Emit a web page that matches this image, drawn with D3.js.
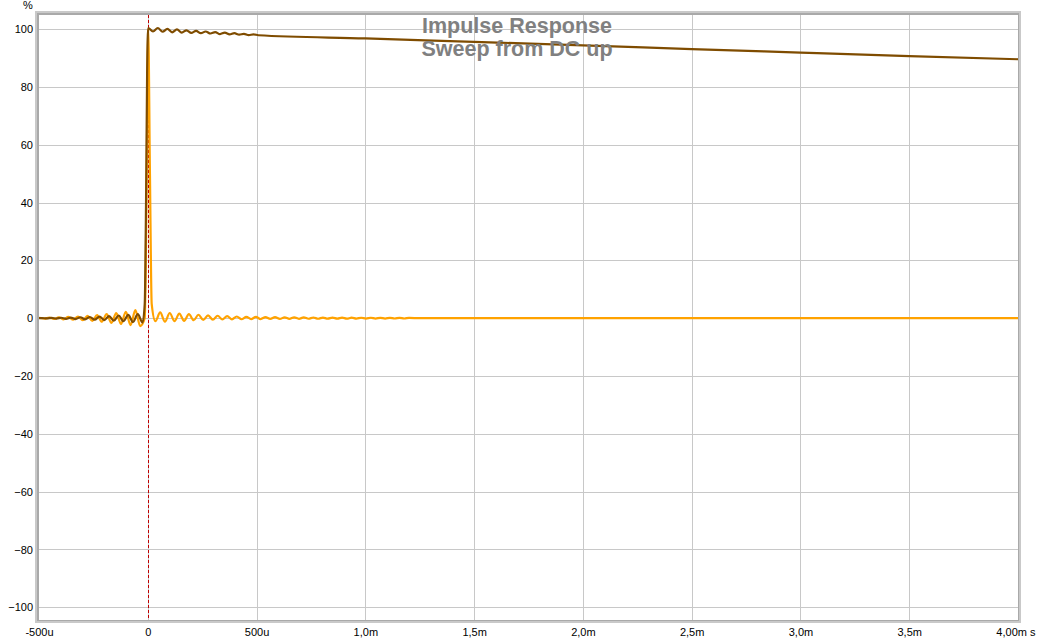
<!DOCTYPE html>
<html><head><meta charset="utf-8">
<script src="https://cdn.jsdelivr.net/npm/d3@7/dist/d3.min.js"></script>
<style>body{margin:0;background:#fff}svg{display:block}</style>
</head><body>
<svg id="c" width="1037" height="643"></svg>
<script>
// time in microseconds, value in %
const impulseT = [-500,-497,-475,-453,-431,-409,-387,-365,-343,-321,-299,-277,-255,-233,-211,-189,-167,-145,-123,-101,-79,-57,-35,-14,-6,2,10,18,
  35,57,79,101,123,145,167,189,211,233,255,277,299,321,343,365,387,409,431,453,475,497,519,541,563,585,607,629,651,673,695,717,739,761,783,805,827,849,871,893,915,937,959,981,1003,1025,1047,1069,1091,1113,1135,1157,1179,1201,1250,4000];
const impulseV = [0,0.1,-0.15,0.2,-0.25,0.3,-0.4,0.45,-0.5,0.6,-0.7,0.8,-0.9,1.05,-1.2,1.4,-1.6,1.8,-2.0,2.2,-2.4,2.8,-2.7,0,40,100,50,5,
  -1.0,2.0,-1.2,1.8,-1.0,1.6,-0.9,1.4,-0.7,1.2,-0.6,1.0,-0.5,0.85,-0.45,0.7,-0.4,0.6,-0.35,0.5,-0.3,0.45,-0.28,0.4,-0.26,0.36,-0.24,0.32,-0.22,0.3,-0.2,0.27,-0.19,0.25,-0.18,0.23,-0.17,0.21,-0.16,0.2,-0.15,0.18,-0.14,0.17,-0.13,0.16,-0.12,0.15,-0.11,0.14,-0.1,0.13,-0.09,0.12,0,0];

const stepT = [-500,-486,-464,-442,-420,-398,-376,-354,-332,-310,-288,-266,-244,-222,-200,-178,-156,-134,-112,-90,-68,-46,-24,-14,-8,-3,2,
  24,46,68,90,112,134,156,178,200,222,244,266,288,310,332,354,376,398,420,442,464,486,508,1000,1500,2000,2500,3000,3500,4000];
const stepV = [0,0.06,-0.08,0.1,-0.14,0.17,-0.2,0.24,-0.28,0.33,-0.38,0.43,-0.5,0.57,-0.65,0.75,-0.85,0.95,-1.05,1.15,-1.3,1.4,-1.5,5,40,85,100.4,
  99.2,100.4,99.1,100.1,98.9,99.9,98.8,99.6,98.7,99.4,98.6,99.2,98.5,99.0,98.3,98.8,98.2,98.6,98.1,98.4,97.95,98.2,97.9,96.8,95.6,94.4,93.1,91.9,90.7,89.6];

const xTicks = [-0.5,0,0.5,1.0,1.5,2.0,2.5,3.0,3.5,4.0];
const xTickLabels = ["-500u","0","500u","1,0m","1,5m","2,0m","2,5m","3,0m","3,5m","4,00m s"];
const yTicks = [-100,-80,-60,-40,-20,0,20,40,60,80,100];
const titleLines = ["Impulse Response","Sweep from DC up"];

const svg = d3.select("#c");
const L = 39, R = 1018, T = 15, B = 620;
const x = d3.scaleLinear().domain([-0.5, 4.0]).range([L, R]);
const y = d3.scaleLinear().domain([-104.4, 104.9]).range([B, T]);

// frame
svg.append("rect").attr("x", L-4).attr("y", T-4).attr("width", R-L+7).attr("height", B-T+7).attr("fill", "#c9c9c9");
svg.append("rect").attr("x", L-2).attr("y", T-2).attr("width", R-L+3).attr("height", B-T+3).attr("fill", "#a9a9a9");
svg.append("rect").attr("x", L).attr("y", T).attr("width", R-L).attr("height", B-T).attr("fill", "#fff");

// grid
const g = svg.append("g");
g.selectAll(".gx").data(xTicks.filter(d => d > -0.5 && d < 4.0)).join("line")
  .attr("x1", d => Math.round(x(d)) + 0.5).attr("x2", d => Math.round(x(d)) + 0.5)
  .attr("y1", T).attr("y2", B).attr("stroke", "#c8c8c8").attr("stroke-width", 1);
g.selectAll(".gy").data(yTicks).join("line")
  .attr("y1", d => Math.round(y(d)) + 0.5).attr("y2", d => Math.round(y(d)) + 0.5)
  .attr("x1", L).attr("x2", R).attr("stroke", "#c8c8c8").attr("stroke-width", 1);

// zero time marker
svg.append("line").attr("x1", Math.round(x(0)) + 0.5).attr("x2", Math.round(x(0)) + 0.5)
  .attr("y1", T).attr("y2", B).attr("stroke", "#c00000").attr("stroke-width", 1).attr("stroke-dasharray", "3,2");

// y axis labels
const yAxis = d3.axisLeft(y).tickValues(yTicks).tickSize(0).tickPadding(0);
const ya = svg.append("g").attr("transform", `translate(${L-6},0)`).call(yAxis);
ya.select(".domain").remove();
ya.selectAll("text").attr("font-family", "Liberation Sans, Arial, sans-serif").attr("font-size", 11).attr("fill", "#000");

// x axis labels
const xAxis = d3.axisBottom(x).tickValues(xTicks).tickSize(0).tickPadding(0).tickFormat((d, i) => xTickLabels[i]);
const xa = svg.append("g").attr("transform", `translate(0,${B+8})`).call(xAxis);
xa.select(".domain").remove();
xa.selectAll("text").attr("font-family", "Liberation Sans, Arial, sans-serif").attr("font-size", 11).attr("fill", "#000")
  .attr("text-anchor", (d, i) => i === xTickLabels.length - 1 ? "end" : "middle")
  .attr("x", (d, i) => i === xTickLabels.length - 1 ? 17 : 0);

svg.append("text").attr("x", 28).attr("y", 9).attr("text-anchor", "middle")
  .attr("font-family", "Liberation Sans, Arial, sans-serif").attr("font-size", 11).text("%");

// series
svg.append("clipPath").attr("id", "pc").append("rect").attr("x", L).attr("y", T).attr("width", R-L).attr("height", B-T);
const imp = impulseT.map((t, i) => [t, impulseV[i]]);
const stp = stepT.map((t, i) => [t, stepV[i]]);
const curve = d3.line().curve(d3.curveMonotoneX).x(d => x(d[0] / 1000)).y(d => y(d[1]));
svg.append("path").attr("d", curve(imp)).attr("fill", "none").attr("stroke", "#ffa200").attr("stroke-width", 2.2).attr("clip-path", "url(#pc)").attr("stroke-linejoin", "round");
svg.append("path").attr("d", curve(stp)).attr("fill", "none").attr("stroke", "#7f4c00").attr("stroke-width", 2.2).attr("clip-path", "url(#pc)").attr("stroke-linejoin", "round");

// title
svg.selectAll(".title").data(titleLines).join("text")
  .attr("x", 517).attr("y", (d, i) => 33 + i * 23).attr("text-anchor", "middle")
  .attr("font-family", "Liberation Sans, Arial, sans-serif").attr("font-weight", "bold").attr("font-size", 21.5)
  .attr("fill", "#808080").text(d => d);
</script>
</body></html>
